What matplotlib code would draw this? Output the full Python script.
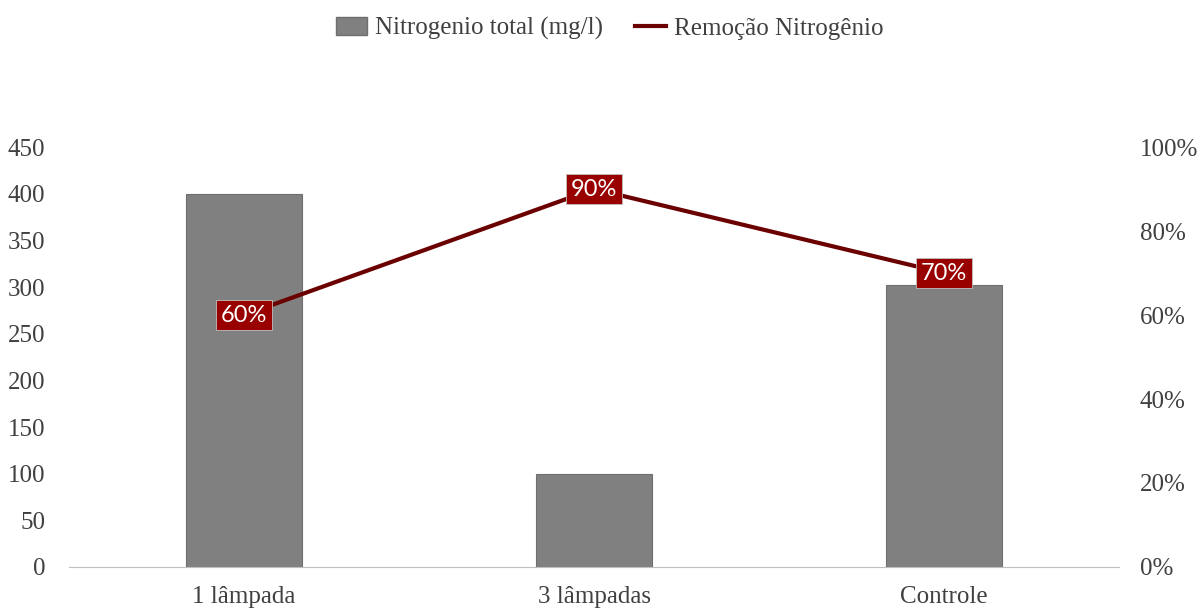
import matplotlib.pyplot as plt
from matplotlib.ticker import PercentFormatter
from matplotlib.lines import Line2D
from matplotlib.patches import Patch

categories = ["1 lâmpada", "3 lâmpadas", "Controle"]
nitrogen = [400, 100, 302]
removal = [0.60, 0.90, 0.70]
removal_labels = ["60%", "90%", "70%"]

plt.rcParams['font.family'] = ['Liberation Serif', 'DejaVu Serif']
text_color = "#404040"

fig = plt.figure(figsize=(12, 6.1), dpi=100)
ax = fig.add_axes([0.0575, 0.0705, 0.875, 0.6885])
x = range(len(categories))

ax.bar(x, nitrogen, width=0.33, color="#808080", edgecolor="#6e6e6e", linewidth=0.8, zorder=2)
ax.set_xlim(-0.5, 2.5)
ax.set_ylim(0, 450)
ax.set_yticks(range(0, 451, 50))
ax.set_xticks(list(x))
ax.set_xticklabels(categories)
for s in ["top", "right", "left"]:
    ax.spines[s].set_visible(False)
ax.spines["bottom"].set_color("#bfbfbf")
ax.tick_params(axis="y", length=0, labelsize=18, labelcolor=text_color, pad=17)
ax.tick_params(axis="x", length=0, labelsize=18, labelcolor=text_color, pad=14)

ax2 = ax.twinx()
ax2.plot(list(x), removal, color="#6b0000", linewidth=3, zorder=3)
ax2.set_ylim(0, 1.0)
ax2.set_yticks([0, 0.2, 0.4, 0.6, 0.8, 1.0])
ax2.yaxis.set_major_formatter(PercentFormatter(1.0, decimals=0))
for s in ["top", "right", "left", "bottom"]:
    ax2.spines[s].set_visible(False)
ax2.tick_params(axis="y", length=0, labelsize=18, labelcolor=text_color, pad=15)

for xi, yi, lab in zip(x, removal, removal_labels):
    ax2.text(xi, yi, lab, ha="center", va="center", color="white", fontsize=17,
             family=["Lato", "DejaVu Sans"],
             bbox=dict(boxstyle="square,pad=0.2", facecolor="#990000", edgecolor="#bfbfbf", linewidth=0.6),
             zorder=4)

handles = [Patch(facecolor="#808080", edgecolor="#6e6e6e", label="Nitrogenio total (mg/l)"),
           Line2D([0], [0], color="#6b0000", linewidth=3, label="Remoção Nitrogênio")]
fig.legend(handles=handles, loc="center", bbox_to_anchor=(0.508, 0.953), ncol=2, frameon=False,
           fontsize=18, labelcolor=text_color, handlelength=1.25, handletextpad=0.3, columnspacing=1.3)

fig.savefig("out.png", dpi=100)
